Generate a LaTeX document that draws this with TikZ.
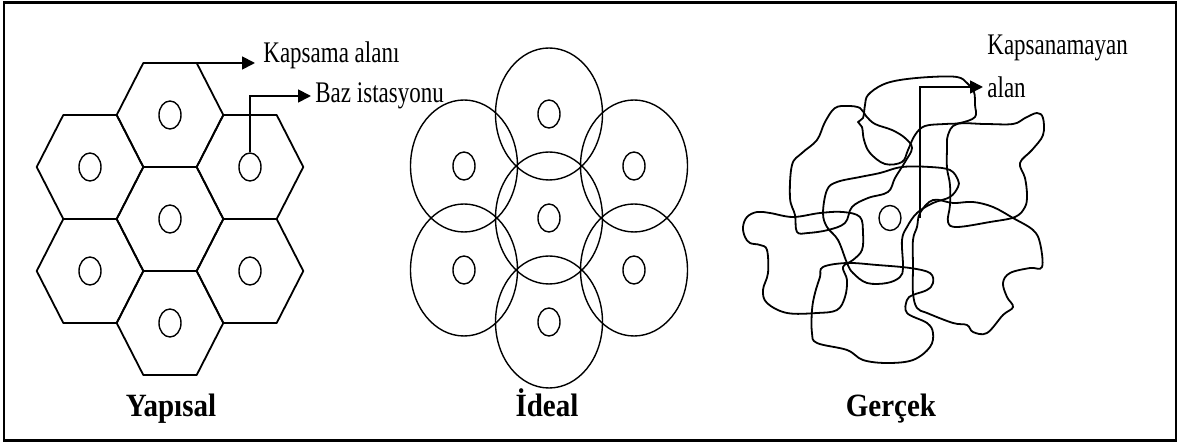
\documentclass[tikz,border=0pt]{standalone}
\usepackage{fontspec}
\setmainfont{Liberation Serif}
\usetikzlibrary{arrows.meta, positioning, shapes.geometric}
\newcommand{\tallt}[2][1.3]{\scalebox{1}[#1]{#2}}

\begin{document}
\begin{tikzpicture}[
  x=0.5pt, y=-0.5pt,
  font=\fontsize{11.5}{13}\selectfont,
  hexline/.style={line width=0.9pt, line join=round},
  cover/.style={line width=0.7pt},
  blob/.style={line width=0.9pt, line join=round},
  bts/.style={ellipse, draw, line width=0.7pt, minimum width=11pt,
              minimum height=14pt, inner sep=0pt},
  ptr/.style={line width=0.9pt, -{Triangle[length=6.5pt, width=6.5pt]}},
  lbl/.style={inner sep=2pt},
  ttl/.style={font=\fontsize{14.5}{16}\selectfont\bfseries, anchor=base},
  ]
\useasboundingbox (0,0) rectangle (1180,443);
\draw[line width=1.2pt] (4,2.5) rectangle (1176,440.5);

% Yapisal: hexagon cells
\foreach \cx/\cy/\n in {170/115/1, 90/167/2, 250/167/3, 170/219/4,
                        90/271/5, 250/271/6, 170/323/7} {
  \draw[hexline, shift={(\cx,\cy)}] (-53.3,0) -- (-26.7,-52) -- (26.7,-52)
    -- (53.3,0) -- (26.7,52) -- (-26.7,52) -- cycle;
  \node[bts] (y\n) at (\cx,\cy) {};
}
\coordinate (kv) at (196.7,63);
\node[lbl, anchor=base west] (kapl) at (259,63) {\tallt{Kapsama alanı}};
\draw[ptr, shorten >=2pt] (kv) -- (kv -| kapl.west);
\node[lbl, anchor=west] (bazl) at (311,96) {\tallt{Baz istasyonu}};
\draw[ptr] (y3.north) |- (bazl.west);

% Ideal: circular cells
\foreach \cx/\cy/\n in {549/114/1, 464/166/2, 634/166/3, 549/218/4,
                        464/270/5, 634/270/6, 549/322/7} {
  \draw[cover] (\cx,\cy) ellipse (53.5 and 66);
  \node[bts] (i\n) at (\cx,\cy) {};
}

% Gercek: irregular cells
\node[bts, minimum height=12.5pt] (g0) at (890,218) {};
\draw[blob] plot[smooth cycle, tension=0.6] coordinates {(882,85) (900,80)
  (930,77) (957,77) (967,83) (974,92) (975,105) (975,117) (960,123) (945,124)
  (925,126) (915,135) (908,150) (902,162) (885,164) (870,153) (864,140)
  (862,127) (858,122) (863,118) (865,105) (868,95)};
\draw[blob] plot[smooth cycle, tension=0.6] coordinates {(835,108) (848,106)
  (860,108) (866,116) (875,124) (892,130) (905,138) (912,148) (905,162)
  (895,178) (888,192) (868,198) (852,207) (845,223) (828,230) (808,233)
  (797,232) (795,215) (790,198) (792,165) (802,153) (817,140) (825,122)};
\draw[blob] plot[smooth cycle, tension=0.6] coordinates {(957,124) (985,124)
  (1013,124) (1025,118) (1037,113) (1043,118) (1043,135) (1032,150)
  (1020,163) (1025,178) (1027,195) (1025,207) (1015,217) (990,222) (957,227)
  (948,222) (950,205) (950,185) (947,168) (947,150) (948,135)};
\draw[blob] plot[smooth cycle, tension=0.6] coordinates {(743,227) (747,217)
  (757,212) (770,213) (793,217) (820,213) (843,212) (860,217) (863,233)
  (862,250) (853,260) (843,267) (847,280) (845,297) (837,310) (817,313)
  (787,313) (767,303) (763,290) (768,273) (767,250) (760,245) (750,243)
  (745,237)};
\draw[blob] plot[smooth cycle, tension=0.6] coordinates {(827,190) (837,182)
  (860,177) (880,173) (902,167) (930,167) (950,170) (958,180) (958,187)
  (950,197) (933,203) (917,213) (907,227) (902,240) (903,267) (900,277)
  (887,283) (867,283) (853,273) (847,263) (838,240) (827,227) (823,213)};
\draw[blob] plot[smooth cycle, tension=0.6] coordinates {(823,267) (847,263)
  (877,265) (910,268) (930,273) (933,283) (927,290) (913,295) (907,300)
  (907,313) (927,323) (933,333) (930,347) (913,360) (887,363) (863,360)
  (847,350) (817,343) (812,333) (812,310) (815,293) (820,277)};
\draw[blob] plot[smooth cycle, tension=0.6] coordinates {(920,213) (933,200)
  (953,203) (973,202) (993,207) (1013,218) (1033,230) (1040,243) (1042,267)
  (1030,268) (1010,273) (1003,283) (1007,297) (1013,307) (1003,315)
  (987,333) (973,332) (967,325) (953,323) (927,313) (917,308) (913,293)
  (913,267) (913,240) (917,227)};
\coordinate (gp) at (920,218);
\node[lbl, anchor=west] (alan) at (983,87) {\tallt{alan}};
\node[lbl, above=3.5pt of alan.north west, anchor=south west] (kapsn)
  {\tallt{Kapsanamayan}};
\draw[ptr] (gp) |- (alan.west);

% titles
\node[ttl] (tyap) at (171,417) {\tallt[1.12]{Yapısal}};
\node[ttl] (tide) at (547,417) {\tallt[1.12]{İdeal}};
\node[ttl] (tger) at (891,417) {\tallt[1.12]{Gerçek}};
\end{tikzpicture}
\end{document}
